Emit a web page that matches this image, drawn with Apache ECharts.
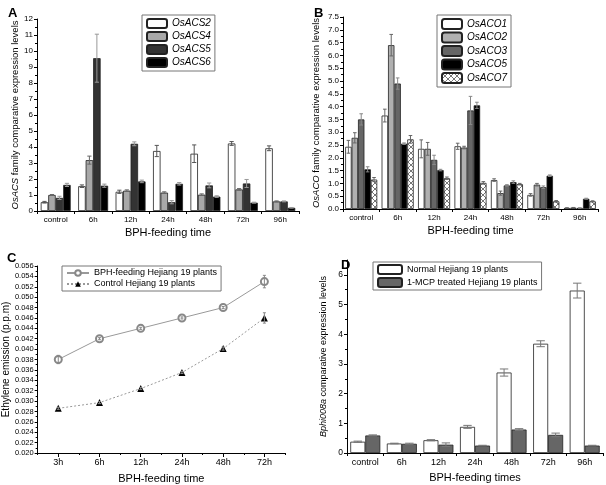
<!DOCTYPE html>
<html><head><meta charset="utf-8">
<script src="https://cdn.jsdelivr.net/npm/echarts@6/dist/echarts.min.js"></script>
<style>html,body{margin:0;padding:0;background:#fff}#c{width:606px;height:485px}</style>
</head><body><div id="c"></div>
<script>
// ---------- data ----------
const timesAB = ['control','6h','12h','24h','48h','72h','96h'];
const timesC = ['3h','6h','12h','24h','48h','72h'];

// Panel A: OsACS family
const acsNames = ['OsACS2','OsACS4','OsACS5','OsACS6'];
const acs2 = [0.55,1.55,1.20,3.75,3.58,4.22,3.92];
const acs4 = [1.00,3.18,1.27,1.15,1.02,1.35,0.60];
const acs5 = [0.82,9.55,4.20,0.55,1.60,1.72,0.60];
const acs6 = [1.63,1.58,1.85,1.70,0.90,0.52,0.20];
const acs2Err = [0.05,0.08,0.10,0.35,0.55,0.12,0.15];
const acs4Err = [0.03,0.25,0.05,0.05,0.05,0.05,0.03];
const acs5Err = [0.10,1.50,0.12,0.10,0.15,0.25,0.03];
const acs6Err = [0.10,0.10,0.08,0.08,0.05,0.03,0.02];

// Panel B: OsACO family
const acoNames = ['OsACO1','OsACO2','OsACO3','OsACO5','OsACO7'];
const aco1 = [2.43,3.65,2.35,2.45,1.13,0.55,0.04];
const aco2 = [2.78,6.40,2.35,2.40,0.62,0.95,0.05];
const aco3 = [3.50,4.90,1.92,3.85,0.92,0.85,0.04];
const aco5 = [1.55,2.55,1.52,4.05,1.05,1.30,0.40];
const aco7 = [1.15,2.72,1.20,1.02,0.97,0.30,0.30];
const aco1Err = [0.25,0.25,0.35,0.12,0.05,0.05,0.01];
const aco2Err = [0.20,0.42,0.25,0.05,0.08,0.05,0.01];
const aco3Err = [0.22,0.22,0.18,0.55,0.03,0.05,0.01];
const aco5Err = [0.10,0.03,0.03,0.12,0.05,0.03,0.02];
const aco7Err = [0.08,0.15,0.05,0.05,0.03,0.03,0.02];

// Panel C: ethylene emission
const ethNames = ['BPH-feeding Hejiang 19 plants','Control Hejiang 19 plants'];
const ethBph = [0.0380,0.0420,0.0440,0.0460,0.0480,0.0530];
const ethCtl = [0.0286,0.0297,0.0324,0.0355,0.0401,0.0460];
const ethBphErr = [0.0008,0.0002,0.0002,0.0002,0.0002,0.0012];
const ethCtlErr = [0.0002,0.0002,0.0002,0.0002,0.0003,0.0010];

// Panel D: Bphi008a
const dNames = ['Normal Hejiang 19 plants','1-MCP treated Hejiang 19 plants'];
const dNormal = [0.38,0.32,0.43,0.88,2.71,3.68,5.47];
const dMcp = [0.59,0.31,0.28,0.25,0.79,0.61,0.25];
const dNormalErr = [0.02,0.01,0.02,0.05,0.12,0.10,0.25];
const dMcpErr = [0.02,0.02,0.06,0.01,0.03,0.06,0.01];

// ---------- styling helpers ----------
const FONT = 'Liberation Sans';
const chart = echarts.init(document.getElementById('c'));

function hatch(){
  const c = document.createElement('canvas'); c.width = 6; c.height = 6;
  const g = c.getContext('2d');
  g.fillStyle = '#fff'; g.fillRect(0,0,6,6);
  g.strokeStyle = '#777'; g.lineWidth = 1;
  g.beginPath(); g.moveTo(0,0); g.lineTo(6,6); g.moveTo(6,0); g.lineTo(0,6); g.stroke();
  return c;
}

function errRender(idx, n, gap, color){
  return function(params, api){
    const x = api.value(0), lo = api.value(1), hi = api.value(2);
    const band = api.size([1,0])[0];
    const group = band*(1-gap);
    const bw = group/n;
    const off = -group/2 + bw*(idx+0.5);
    const pLo = api.coord([x, lo]), pHi = api.coord([x, hi]);
    const cx = pLo[0] + off;
    const cap = Math.max(1.5, bw*0.28);
    const st = {stroke: color, lineWidth: 1};
    return {type:'group', children:[
      {type:'line', shape:{x1:cx,y1:pLo[1],x2:cx,y2:pHi[1]}, style:st},
      {type:'line', shape:{x1:cx-cap,y1:pHi[1],x2:cx+cap,y2:pHi[1]}, style:st},
      {type:'line', shape:{x1:cx-cap,y1:pLo[1],x2:cx+cap,y2:pLo[1]}, style:st}
    ]};
  };
}
function errData(vals, errs){ return vals.map((v,i)=>[i, v-errs[i], v+errs[i]]); }

function barSeries(name, data, xi, color, gapPct, extra){
  return Object.assign({
    name, type:'bar', data, xAxisIndex:xi, yAxisIndex:xi,
    barGap:'0%', barCategoryGap:gapPct,
    itemStyle:{color, borderColor:'#222', borderWidth:0.8},
    emphasis:{disabled:true}, animation:false
  }, extra||{});
}
function errSeries(vals, errs, xi, idx, n, gap, color){
  return {type:'custom', xAxisIndex:xi, yAxisIndex:xi, z:5, silent:true, animation:false,
    renderItem: errRender(idx, n, gap, color), encode:{x:0, y:[1,2]}, data: errData(vals, errs)};
}

const axisLineStyle = {show:true, lineStyle:{color:'#000', width:1}};
function catX(grid, data, fs, nameGap, name){
  return {type:'category', gridIndex:grid, data, position:'bottom',
    axisLine:axisLineStyle, axisTick:{show:true, length:3, lineStyle:{color:'#000'}},
    axisLabel:{fontFamily:FONT, fontSize:fs, color:'#000', margin:5},
    name, nameLocation:'middle', nameGap,
    nameTextStyle:{fontFamily:FONT, fontSize:11, color:'#000'}};
}
function valY(grid, min, max, interval, fmt, fs, name, nameGap, nfs){
  return {type:'value', gridIndex:grid, min, max, interval,
    axisLine:axisLineStyle, axisTick:{show:true, length:3, lineStyle:{color:'#000'}},
    minorTick:{show:true, splitNumber:2, length:2, lineStyle:{color:'#000'}},
    splitLine:{show:false},
    axisLabel:{fontFamily:FONT, fontSize:fs, color:'#000', margin:4, formatter:fmt},
    name, nameLocation:'middle', nameGap,
    nameTextStyle:{fontFamily:FONT, fontSize:nfs, color:'#000',
      rich:{i:{fontFamily:FONT, fontSize:nfs, fontStyle:'italic', color:'#000'}}}};
}

const legendBase = {orient:'vertical', borderColor:'#777', borderWidth:1, backgroundColor:'#fff',
  itemGap:2, selectedMode:false};

const acoHatch = {image: hatch(), repeat:'repeat'};

const option = {
  animation:false,
  textStyle:{fontFamily:FONT},
  title:[
    {text:'A', left:3, top:2, textStyle:{fontFamily:FONT, fontSize:13, fontWeight:'bold', color:'#000'}},
    {text:'B', left:309, top:2, textStyle:{fontFamily:FONT, fontSize:13, fontWeight:'bold', color:'#000'}},
    {text:'C', left:2, top:247, textStyle:{fontFamily:FONT, fontSize:13, fontWeight:'bold', color:'#000'}},
    {text:'D', left:336, top:254, textStyle:{fontFamily:FONT, fontSize:13, fontWeight:'bold', color:'#000'}}
  ],
  grid:[
    {left:37, top:19, width:262, height:192},
    {left:343, top:17, width:255, height:192},
    {left:37, top:266, width:248, height:187},
    {left:347, top:260, width:256, height:193}
  ],
  legend:[
    Object.assign({}, legendBase, {data:acsNames, left:142, top:15, itemWidth:20, itemHeight:9,
      padding:[3,4,3,4], textStyle:{fontFamily:FONT, fontSize:10, fontStyle:'italic', color:'#000', lineHeight:11}}),
    Object.assign({}, legendBase, {data:acoNames, left:437, top:15, itemWidth:20, itemHeight:10,
      padding:[3,4,3,4], itemGap:1.5, textStyle:{fontFamily:FONT, fontSize:10, fontStyle:'italic', color:'#000', lineHeight:12}}),
    Object.assign({}, legendBase, {data:ethNames, left:62, top:266, itemWidth:22, itemHeight:7,
      padding:[2,4,2,4], itemGap:1, textStyle:{fontFamily:FONT, fontSize:9, color:'#000', lineHeight:10}}),
    Object.assign({}, legendBase, {data:dNames, left:373, top:262, itemWidth:24, itemHeight:9,
      padding:[2,4,2,4], itemGap:2, textStyle:{fontFamily:FONT, fontSize:9, color:'#000', lineHeight:10}})
  ],
  xAxis:[
    catX(0, timesAB, 8, 16, 'BPH-feeding time'),
    catX(1, timesAB, 8, 16, 'BPH-feeding time'),
    Object.assign(catX(2, timesC, 9, 20, 'BPH-feeding time'), {axisTick:{show:true, alignWithLabel:true, length:4, lineStyle:{color:'#000'}}}),
    catX(3, timesAB, 9, 19, 'BPH-feeding times'),
    {type:'category', gridIndex:2, data:timesC, position:'bottom', axisLine:{show:false},
      axisLabel:{show:false}, axisTick:{show:true, length:2, lineStyle:{color:'#000'}}}
  ],
  yAxis:[
    valY(0, 0, 12, 1, v=>String(v), 8, '{i|OsACS} family comparative expression levels', 17, 9.5),
    valY(1, 0, 7.5, 0.5, v=>v.toFixed(1), 8, '{i|OsACO} family comparative expression levels', 22, 9.5),
    valY(2, 0.020, 0.056, 0.002, v=>v.toFixed(3), 7.5, 'Ethylene emission (p.p.m)', 26, 10),
    valY(3, 0, 6.5, 1, v=>(Math.abs(v-Math.round(v))<1e-9 ? String(Math.round(v)) : ''), 8.5, '{i|Bphi008a} comparative expression levels', 19, 9)
  ],
  series:[
    barSeries(acsNames[0], acs2, 0, '#fff', '20%'),
    barSeries(acsNames[1], acs4, 0, '#a8a8a8', '20%'),
    barSeries(acsNames[2], acs5, 0, '#333', '20%'),
    barSeries(acsNames[3], acs6, 0, '#000', '20%'),
    errSeries(acs2, acs2Err, 0, 0, 4, 0.2, '#555'),
    errSeries(acs4, acs4Err, 0, 1, 4, 0.2, '#666'),
    errSeries(acs5, acs5Err, 0, 2, 4, 0.2, '#999'),
    errSeries(acs6, acs6Err, 0, 3, 4, 0.2, '#999'),

    barSeries(acoNames[0], aco1, 1, '#fff', '12%'),
    barSeries(acoNames[1], aco2, 1, '#b0b0b0', '12%'),
    barSeries(acoNames[2], aco3, 1, '#666', '12%'),
    barSeries(acoNames[3], aco5, 1, '#000', '12%'),
    barSeries(acoNames[4], aco7, 1, acoHatch, '12%'),
    errSeries(aco1, aco1Err, 1, 0, 5, 0.12, '#666'),
    errSeries(aco2, aco2Err, 1, 1, 5, 0.12, '#666'),
    errSeries(aco3, aco3Err, 1, 2, 5, 0.12, '#888'),
    errSeries(aco5, aco5Err, 1, 3, 5, 0.12, '#888'),
    errSeries(aco7, aco7Err, 1, 4, 5, 0.12, '#666'),

    {name:ethNames[0], type:'line', xAxisIndex:2, yAxisIndex:2, data:ethBph,
      symbol:'emptyCircle', symbolSize:7, lineStyle:{color:'#999', width:1},
      itemStyle:{color:'#888', borderColor:'#888', borderWidth:1}, emphasis:{disabled:true}, z:3},
    {name:ethNames[1], type:'line', xAxisIndex:2, yAxisIndex:2, data:ethCtl,
      symbol:'triangle', symbolSize:7, lineStyle:{color:'#999', width:1, type:[2,2]},
      itemStyle:{color:'#000'}, emphasis:{disabled:true}, z:3},
    errSeries(ethBph, ethBphErr, 2, 0, 1, 1, '#888'),
    errSeries(ethCtl, ethCtlErr, 2, 0, 1, 1, '#888'),

    barSeries(dNames[0], dNormal, 3, '#fff', '18%'),
    barSeries(dNames[1], dMcp, 3, '#666', '18%'),
    errSeries(dNormal, dNormalErr, 3, 0, 2, 0.18, '#777'),
    errSeries(dMcp, dMcpErr, 3, 1, 2, 0.18, '#777')
  ]
};
chart.setOption(option);
</script>
</body></html>
